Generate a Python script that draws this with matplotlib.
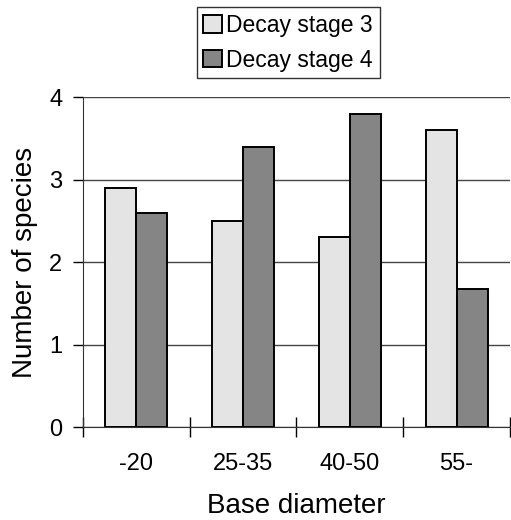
import matplotlib
matplotlib.use("Agg")
import matplotlib.pyplot as plt
import numpy as np

plt.rcParams["font.family"] = ["Liberation Sans", "DejaVu Sans"]

# Dados
categorias = ["-20", "25-35", "40-50", "55-"]
estagio3 = [2.9, 2.5, 2.3, 3.6]
estagio4 = [2.6, 3.4, 3.8, 1.67]
series = ["Decay stage 3", "Decay stage 4"]

fig = plt.figure(figsize=(5.11, 5.2), dpi=100)
ax = fig.add_axes([0.1624, 0.1788, 0.8356, 0.6346])

x = np.arange(len(categorias))
largura = 0.29
b3 = ax.bar(x - largura / 2, estagio3, largura, color="#e4e4e4",
            edgecolor="black", linewidth=1.4, label=series[0], zorder=3)
b4 = ax.bar(x + largura / 2, estagio4, largura, color="#858585",
            edgecolor="black", linewidth=1.4, label=series[1], zorder=3)

ax.set_xlim(-0.5, len(categorias) - 0.5)
ax.set_ylim(0, 4)
ax.set_yticks([0, 1, 2, 3, 4])
ax.grid(axis="y", color="#444444", linewidth=1, zorder=0)
ax.set_axisbelow(True)

# ticks maiores nas fronteiras, rótulos nos centros
ax.set_xticks(np.arange(-0.5, len(categorias), 1.0))
ax.set_xticklabels([])
ax.set_xticks(x, minor=True)
ax.set_xticklabels(categorias, minor=True)
ax.tick_params(axis="x", which="major", direction="inout", length=14, width=1)
ax.tick_params(axis="x", which="minor", length=0, pad=19, labelsize=17)
ax.tick_params(axis="y", direction="out", length=7, width=1, pad=8, labelsize=17)

for lado in ["top", "right"]:
    ax.spines[lado].set_visible(False)
ax.spines["left"].set_color("#333333")
ax.spines["bottom"].set_color("#333333")

ax.set_xlabel("Base diameter", fontsize=20, labelpad=13)
ax.set_ylabel("Number of species", fontsize=20, labelpad=8)

leg = fig.legend(handles=[b3, b4], loc="upper center",
                 bbox_to_anchor=(0.564, 0.986), fontsize=16.5, frameon=True,
                 fancybox=False, edgecolor="black", handlelength=0.8,
                 handleheight=0.8, handletextpad=0.2, borderpad=0.3,
                 labelspacing=0.5, borderaxespad=0)
leg.get_frame().set_linewidth(1)

fig.savefig("out.png", dpi=100)
